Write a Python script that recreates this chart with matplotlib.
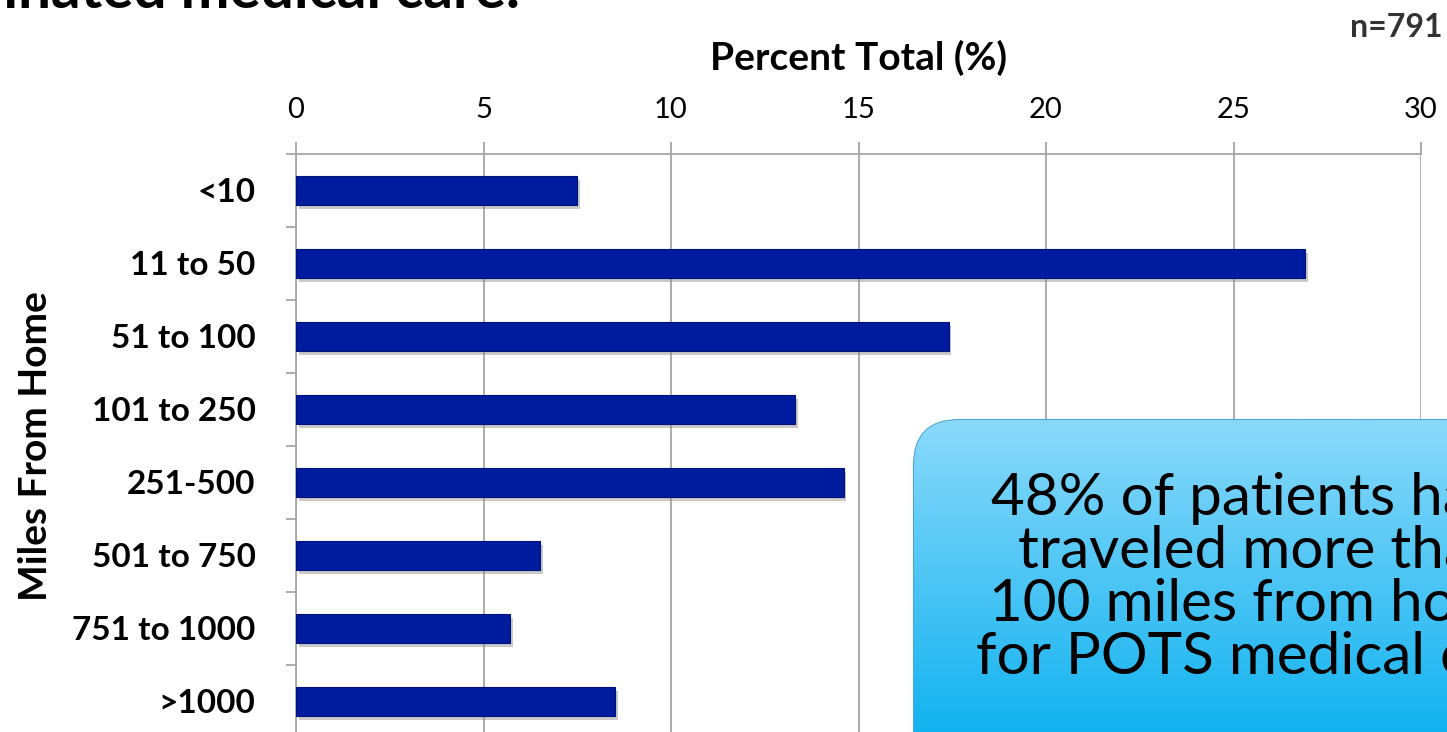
import numpy as np
import matplotlib
matplotlib.use("Agg")
import matplotlib.pyplot as plt
import matplotlib.patheffects as pe
from matplotlib.patches import FancyBboxPatch
from matplotlib.colors import to_rgb

plt.rcParams['font.family'] = ['Lato', 'DejaVu Sans']

# data
categories = ['<10', '11 to 50', '51 to 100', '101 to 250', '251-500',
              '501 to 750', '751 to 1000', '>1000']
percent = [7.5, 26.9, 17.4, 13.3, 14.6, 6.5, 5.7, 8.5]
x_ticks = [0, 5, 10, 15, 20, 25, 30]

callout = "48% of patients have\ntraveled more than\n100 miles from home\nfor POTS medical care"
sample_note = "n=791"
title_tail = "coordinated medical care."

W, H = 1447, 732
fig = plt.figure(figsize=(W / 100, H / 100), dpi=100)
fig.patch.set_facecolor('white')

# main axes placed in pixels: x 296..1421, y 154..738
ax = fig.add_axes([296 / W, 1 - 738 / H, 1125 / W, 584 / H])
ypos = np.arange(len(categories))
bars = ax.barh(ypos, percent, height=0.4, color='#001c9e', edgecolor='#00137a',
               linewidth=0.8, zorder=3)
for b in bars:
    b.set_path_effects([pe.SimplePatchShadow(offset=(2, -3), shadow_rgbFace='#888888', alpha=0.45),
                        pe.Normal()])

ax.set_xlim(0, 30)
ax.set_ylim(len(categories) - 0.5, -0.5)
ax.xaxis.tick_top()
ax.xaxis.set_label_position('top')
ax.set_xticks(x_ticks)
ax.set_xticklabels([str(t) for t in x_ticks], fontsize=21)
ax.tick_params(axis='x', direction='out', length=9, width=1.3, color='#a6a6a6', pad=13)
ax.set_xlabel('Percent Total (%)', fontsize=28, fontweight='bold', labelpad=20)

ax.set_yticks(ypos)
ax.set_yticklabels(categories, fontsize=24, fontweight='bold')
ax.set_yticks(np.arange(-0.5, len(categories)), minor=True)
ax.tick_params(axis='y', which='major', length=0, pad=29)
ax.tick_params(axis='y', which='minor', direction='out', length=7, width=1.3, color='#a6a6a6')
ax.set_ylabel('Miles From Home', fontsize=28, fontweight='bold', labelpad=14)

ax.grid(axis='x', color='#a6a6a6', linewidth=1.3, zorder=0)
ax.set_axisbelow(True)
for side in ['right', 'bottom']:
    ax.spines[side].set_visible(False)
for side in ['top', 'left']:
    ax.spines[side].set_color('#a6a6a6')
    ax.spines[side].set_linewidth(1.3)

# overlay in pixel coordinates for the callout box and loose texts
ov = fig.add_axes([0, 0, 1, 1], zorder=5)
ov.axis('off')
ov.patch.set_alpha(0)

bx, by, bw, bh = 914, 420, 690, 360
box = FancyBboxPatch((bx, by), bw, bh, boxstyle='round,pad=0,rounding_size=45',
                     facecolor='#2bb7f0', edgecolor='#4aa6d6', linewidth=1.5, zorder=1)
box.set_path_effects([pe.SimplePatchShadow(offset=(3, -4), shadow_rgbFace='#777777', alpha=0.5),
                      pe.Normal()])
ov.add_patch(box)
top_c, bot_c = np.array(to_rgb('#8ad9fa')), np.array(to_rgb('#00adee'))
t = np.linspace(0, 1, 256)[:, None, None]
grad = top_c * (1 - t) + bot_c * t
img = ov.imshow(grad, extent=(bx, bx + bw, by + bh, by), aspect='auto', zorder=2,
                interpolation='bilinear')
img.set_clip_path(box)
ov.set_xlim(0, W)
ov.set_ylim(H, 0)

ov.text(1262, 674, callout, fontsize=42, ha='center', va='baseline',
        multialignment='center', linespacing=1.0, color='black', zorder=3)

ov.text(1442, 37, sample_note, fontsize=23, fontweight='bold', color='#333333',
        ha='right', va='baseline')
ov.text(520, 8, title_tail, fontsize=42, fontweight='bold', color='black',
        ha='right', va='baseline')

fig.savefig('out.png', dpi=100)
